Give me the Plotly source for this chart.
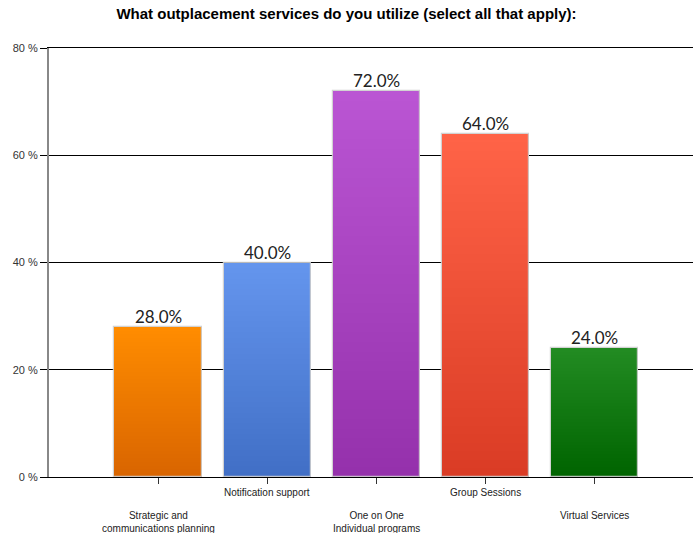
import plotly.graph_objects as go

# Survey results
categories = [
    "Strategic and<br>communications planning",
    "Notification support",
    "One on One<br>Individual programs",
    "Group Sessions",
    "Virtual Services",
]
values = [28.0, 40.0, 72.0, 64.0, 24.0]

# Top / bottom colours for each bar's vertical gradient
top_colors = ["#FF8C00", "#6495ED", "#BA55D3", "#FF6347", "#228B22"]
bottom_colors = ["#D96500", "#416FC6", "#9531AC", "#DA3C25", "#006400"]

y_ticks = [0, 20, 40, 60, 80]
y_tick_labels = ["0 %", "20 %", "40 %", "60 %", "80 %"]
title_text = "What outplacement services do you utilize (select all that apply):"

W, H = 693, 533
M_L, M_R, M_T, M_B = 49, 0, 48, 56
plot_h = H - M_T - M_B


def hex_to_rgb(h):
    h = h.lstrip("#")
    return tuple(int(h[i:i + 2], 16) for i in (0, 2, 4))


def lerp_color(c1, c2, t):
    a, b = hex_to_rgb(c1), hex_to_rgb(c2)
    return "rgb({},{},{})".format(*[round(a[i] + (b[i] - a[i]) * t) for i in range(3)])


x_pos = list(range(len(categories)))
bar_width = 0.8
steps = 40

fig = go.Figure()

# Stepped gradient: progressively shorter overlaid bars, darker towards the base
for k in range(steps):
    frac = 1 - k / steps
    t = k / (steps - 1)
    fig.add_trace(go.Bar(
        x=x_pos,
        y=[v * frac for v in values],
        width=bar_width,
        marker=dict(
            color=[lerp_color(tc, bc, t) for tc, bc in zip(top_colors, bottom_colors)],
            line=dict(width=0),
        ),
        hoverinfo="skip",
        showlegend=False,
    ))

# Thin light outline around each bar
fig.add_trace(go.Bar(
    x=x_pos,
    y=values,
    width=bar_width,
    marker=dict(color="rgba(0,0,0,0)", line=dict(color="rgba(205,205,205,0.9)", width=1.2)),
    hoverinfo="skip",
    showlegend=False,
))

# Value labels above the bars
for i, v in enumerate(values):
    fig.add_annotation(
        x=i, xref="x", y=v, yref="y",
        text=f"{v:.1f}%", showarrow=False,
        yanchor="bottom", yshift=-2,
        font=dict(family="Lato, DejaVu Sans, sans-serif", size=17, color="#222"),
    )

# Staggered category labels below the axis
for i, cat in enumerate(categories):
    offset_px = 485 - (H - M_B) if i % 2 == 1 else 508 - (H - M_B)
    fig.add_annotation(
        x=i, xref="x",
        y=-offset_px / plot_h, yref="paper",
        text=cat, showarrow=False,
        font=dict(family="Liberation Sans Narrow, Liberation Sans, Arial, sans-serif", size=10, color="#222"),
        yanchor="top",
    )

fig.update_layout(
    width=W, height=H,
    margin=dict(l=M_L, r=M_R, t=M_T, b=M_B),
    paper_bgcolor="white", plot_bgcolor="white",
    barmode="overlay", bargap=0,
    title=dict(
        text=f"<b>{title_text}</b>",
        x=0.5, xref="container", xanchor="center",
        y=1 - 14 / H, yref="container", yanchor="middle",
        font=dict(family="Liberation Sans, Arial, sans-serif", size=15, color="black"),
    ),
    xaxis=dict(
        range=[-1.0, 4.9],
        tickvals=x_pos, ticktext=[""] * len(x_pos),
        ticks="outside", ticklen=6, tickcolor="#333", tickwidth=1,
        showgrid=False, zeroline=False,
        showline=True, mirror=True, linecolor="black", linewidth=1,
    ),
    yaxis=dict(
        range=[0, 80],
        tickvals=y_ticks, ticktext=y_tick_labels,
        ticks="outside", ticklen=7, tickcolor="black", tickwidth=1,
        tickfont=dict(family="Liberation Sans, Arial, sans-serif", size=11, color="#333"),
        showgrid=True, gridcolor="black", gridwidth=1,
        zeroline=False,
        showline=True, linecolor="#888", linewidth=2,
    ),
)

fig.write_html("out.html")
